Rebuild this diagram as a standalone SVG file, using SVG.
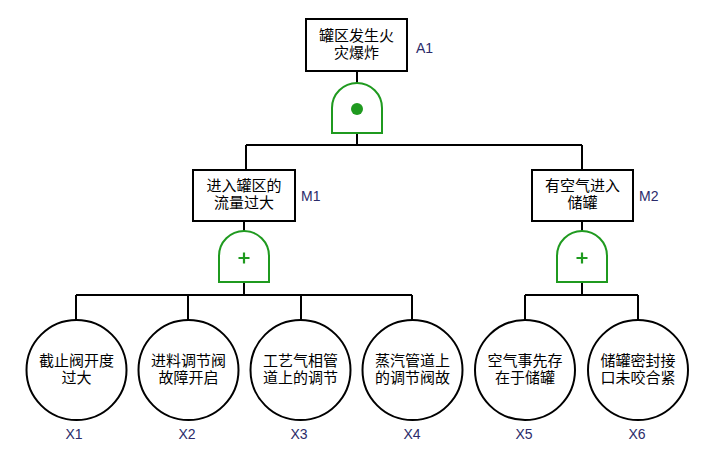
<svg xmlns="http://www.w3.org/2000/svg" width="707" height="473" viewBox="0 0 707 473">
<style>
.box{fill:#fff;stroke:#000;stroke-width:2}
.ev{fill:#fff;stroke:#000;stroke-width:2}
.gate{fill:#fff;stroke:#1f9a1f;stroke-width:2}
.plus{stroke:#1f9a1f;stroke-width:2.2;fill:none}
.ln{stroke:#000;stroke-width:2;fill:none}
.t{font-family:"Noto Sans CJK SC","Liberation Sans",sans-serif;font-size:15px;fill:#000;text-anchor:middle}
.lb{font-family:"Liberation Sans",Arial,sans-serif;font-size:14px;fill:#2b2b6a}
</style>
<rect width="707" height="473" fill="#fff"/>
<g id="connectors">
<path class="ln" d="M357 71V83M357 133V145M246 145H582M246 145V170M582 145V170"/>
<path class="ln" d="M244 221V231M244 282V295M76 295H412M76 295V320M188 295V320M301 295V320M412 295V320"/>
<path class="ln" d="M582 221V231M582 282V295M525 295H638M525 295V320M638 295V320"/>
</g>
<g id="A1">
<rect class="box" x="306" y="19" width="101" height="52"/>
<text class="t"><tspan x="356.5" y="41">罐区发生火</tspan><tspan x="356.5" y="58">灾爆炸</tspan></text>
<text class="lb" x="416" y="53">A1</text>
</g>
<g id="G1">
<path class="gate" d="M332 133V108A25 25 0 0 1 382 108V133Z"/>
<circle cx="357" cy="109" r="6" fill="#1f9a1f"/>
</g>
<g id="M1">
<rect class="box" x="193" y="170" width="102" height="51"/>
<text class="t"><tspan x="244" y="191">进入罐区的</tspan><tspan x="244" y="208">流量过大</tspan></text>
<text class="lb" x="301" y="201">M1</text>
</g>
<g id="G2">
<path class="gate" d="M219 282V256A25 25 0 0 1 269 256V282Z"/>
<path class="plus" d="M238.5 258H249.5M244 252.5V263.5"/>
</g>
<g id="M2">
<rect class="box" x="532" y="170" width="101" height="51"/>
<text class="t"><tspan x="582.5" y="191">有空气进入</tspan><tspan x="582.5" y="208">储罐</tspan></text>
<text class="lb" x="639" y="201">M2</text>
</g>
<g id="G3">
<path class="gate" d="M557 282V256A25 25 0 0 1 607 256V282Z"/>
<path class="plus" d="M576.5 258H587.5M582 252.5V263.5"/>
</g>
<g id="X1">
<circle class="ev" cx="76.5" cy="370" r="50"/>
<text class="t"><tspan x="76.5" y="366">截止阀开度</tspan><tspan x="76.5" y="383">过大</tspan></text>
<text class="lb" x="74" y="439" text-anchor="middle">X1</text>
</g>
<g id="X2">
<circle class="ev" cx="188.5" cy="370" r="50"/>
<text class="t"><tspan x="188.5" y="366">进料调节阀</tspan><tspan x="188.5" y="383">故障开启</tspan></text>
<text class="lb" x="187" y="439" text-anchor="middle">X2</text>
</g>
<g id="X3">
<circle class="ev" cx="300.5" cy="370" r="50"/>
<text class="t"><tspan x="300.5" y="366">工艺气相管</tspan><tspan x="300.5" y="383">道上的调节</tspan></text>
<text class="lb" x="299" y="439" text-anchor="middle">X3</text>
</g>
<g id="X4">
<circle class="ev" cx="412.5" cy="370" r="50"/>
<text class="t"><tspan x="412.5" y="366">蒸汽管道上</tspan><tspan x="412.5" y="383">的调节阀故</tspan></text>
<text class="lb" x="412" y="439" text-anchor="middle">X4</text>
</g>
<g id="X5">
<circle class="ev" cx="525" cy="370" r="50"/>
<text class="t"><tspan x="525" y="366">空气事先存</tspan><tspan x="525" y="383">在于储罐</tspan></text>
<text class="lb" x="524" y="439" text-anchor="middle">X5</text>
</g>
<g id="X6">
<circle class="ev" cx="638" cy="370" r="50"/>
<text class="t"><tspan x="638" y="366">储罐密封接</tspan><tspan x="638" y="383">口未咬合紧</tspan></text>
<text class="lb" x="637" y="439" text-anchor="middle">X6</text>
</g>
</svg>
